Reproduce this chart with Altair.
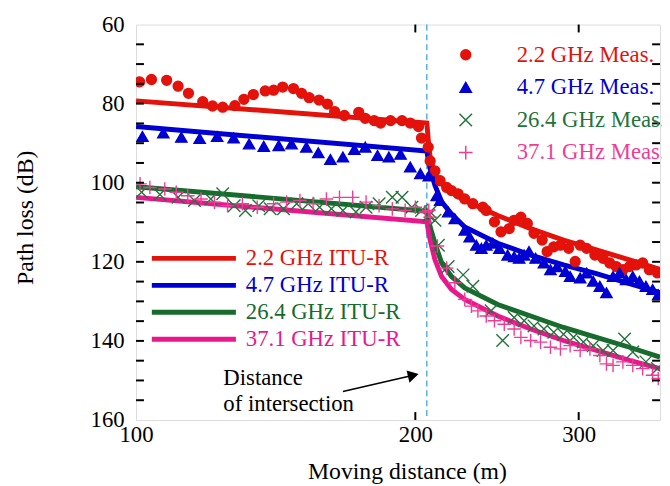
import altair as alt
import pandas as pd

FONT = "Liberation Serif"

# ---------------- data ----------------
series_meas = ["2.2 GHz Meas.", "4.7 GHz Meas.", "26.4 GHz Meas.", "37.1 GHz Meas."]
series_itu = ["2.2 GHz ITU-R", "4.7 GHz ITU-R", "26.4 GHz ITU-R", "37.1 GHz ITU-R"]

meas22_dist = [100.9, 103.9, 107.9, 111.0, 113.9, 118.0, 120.9, 124.0, 127.8, 130.7, 133.8, 137.8, 140.7,
               143.9, 147.8, 150.8, 153.7, 157.5, 160.8, 163.7, 167.7, 173.8, 176.6, 180.6, 183.5, 188.1,
               193.5, 197.5, 201.6, 203.1, 206.5, 207.5, 210.0, 212.7, 216.2, 218.8, 222.4, 226.1, 230.7,
               236.5, 238.5, 243.4, 247.4, 252.5, 255.6, 259.9, 264.1, 268.5, 274.0, 277.4, 282.0, 286.7,
               292.6, 297.4, 301.1, 306.0, 312.3, 318.7, 324.0, 329.3, 334.8, 340.3, 345.9, 351.6, 357.5, 364.8]
meas22_loss = [74.5, 73.9, 74.1, 75.6, 77.4, 79.5, 80.6, 80.9, 80.5, 78.9, 77.7, 76.8, 76.6,
               75.8, 76.2, 77.4, 78.5, 79.1, 80.1, 82.0, 83.0, 82.2, 83.7, 84.3, 84.9, 84.3,
               84.3, 84.9, 85.8, 88.7, 91.0, 94.5, 97.0, 99.5, 101.2, 102.0, 102.8, 104.1, 105.3,
               106.2, 107.0, 109.9, 112.4, 111.6, 109.5, 108.7, 110.3, 112.8, 114.5, 117.4, 116.2, 115.8,
               116.6, 119.9, 115.8, 116.6, 118.3, 119.1, 120.3, 121.2, 122.0, 121.2, 120.8, 120.3, 122.0, 122.8]

meas47_dist = [101.6, 107.0, 111.9, 117.1, 122.3, 127.4, 132.4, 137.3, 142.5, 147.1, 152.6, 157.2, 162.0,
               167.1, 171.9, 176.6, 182.1, 187.3, 192.8, 197.5, 202.5, 206.8, 210.9, 212.7, 217.0, 220.6,
               226.1, 228.9, 232.7, 235.6, 238.5, 242.4, 246.4, 251.5, 255.6, 258.8, 262.0, 265.2, 269.6,
               275.2, 279.7, 284.3, 290.2, 293.7, 301.1, 306.0, 311.0, 316.2, 321.4, 326.7, 332.1, 337.5,
               343.1, 348.8, 354.5, 360.4, 365.5]
meas47_loss = [88.3, 87.4, 88.5, 88.8, 88.3, 88.7, 90.2, 90.8, 90.6, 90.2, 91.0, 92.4, 94.1,
               93.5, 91.6, 91.0, 93.1, 93.5, 92.8, 96.0, 97.7, 98.3, 103.3, 104.5, 107.4, 109.1,
               112.0, 113.7, 115.8, 116.6, 115.8, 115.3, 116.6, 118.3, 118.7, 119.1, 118.3, 117.4, 119.1,
               120.3, 122.0, 121.2, 122.4, 123.7, 124.1, 122.8, 124.9, 126.2, 127.8, 123.7, 122.8, 124.5,
               123.7, 124.9, 126.2, 127.0, 128.3]

meas264_dist = [101.4, 106.1, 111.0, 115.6, 120.4, 124.0, 127.6, 131.2, 135.6, 139.5, 144.2, 149.0, 153.3,
                157.7, 162.4, 167.1, 172.6, 177.0, 182.8, 188.9, 193.5, 198.3, 203.1, 206.8, 207.5, 210.0,
                211.8, 217.0, 225.2, 230.7, 241.4, 248.4, 255.6, 262.0, 268.5, 275.2, 282.0, 288.9, 296.2,
                303.5, 311.0, 318.7, 326.7, 336.2, 343.1, 354.5, 364.8]
meas264_loss = [102.4, 103.0, 103.7, 104.5, 104.1, 102.8, 105.8, 107.0, 105.8, 106.6, 106.6, 105.3, 105.3,
                106.2, 106.6, 107.0, 107.4, 106.2, 105.3, 103.7, 103.7, 106.2, 107.0, 108.3, 107.4, 109.5,
                115.8, 121.2, 123.3, 126.2, 132.4, 139.9, 134.1, 134.9, 136.2, 137.0, 137.8, 138.3, 139.1,
                140.3, 141.2, 142.4, 142.4, 139.5, 142.8, 145.3, 147.0]

meas371_dist = [101.0, 103.5, 107.4, 110.5, 113.7, 117.5, 121.5, 125.5, 130.2, 135.1, 140.7, 145.3, 150.2,
                155.2, 160.4, 165.7, 171.2, 177.0, 182.8, 188.9, 195.0, 200.0, 205.0, 206.8, 207.5, 211.3,
                216.2, 220.6, 226.1, 229.9, 233.6, 238.5, 243.4, 249.4, 255.6, 259.9, 266.3, 272.9, 279.7,
                286.7, 293.7, 301.1, 308.5, 316.2, 321.4, 326.7, 334.8, 343.1, 351.6, 360.4, 365.5]
meas371_loss = [100.3, 101.2, 101.6, 102.4, 103.3, 104.1, 104.9, 105.8, 105.3, 106.2, 105.3, 104.9, 104.5,
                105.3, 104.1, 103.7, 103.7, 104.9, 105.8, 106.6, 107.0, 106.2, 107.4, 107.0, 108.7, 116.0,
                121.6, 125.3, 129.5, 131.2, 132.4, 133.7, 134.9, 135.8, 137.0, 139.1, 139.9, 140.3, 141.6,
                142.0, 141.2, 142.4, 142.0, 143.7, 145.8, 146.2, 145.3, 146.2, 147.0, 148.7, 149.5]

itu_dist = [100.0, 205.8, 206.6, 207.5, 210.0, 213.5, 218.8, 226.1, 245.4, 266.3, 288.9, 313.5, 340.3, 367.1]
itu22 = [79.3, 84.9, 89.5, 93.7, 97.8, 100.2, 102.4, 104.5, 108.3, 111.6, 114.5, 117.0, 119.5, 121.9]
itu47 = [85.8, 92.0, 94.3, 96.5, 100.7, 104.8, 107.9, 111.2, 115.3, 118.3, 120.8, 123.0, 125.5, 127.8]
itu264 = [101.0, 107.2, 109.2, 111.2, 115.3, 120.3, 123.7, 126.6, 130.8, 133.7, 136.6, 139.1, 141.6, 144.1]
itu371 = [103.7, 109.9, 112.2, 114.5, 119.5, 123.7, 127.0, 129.5, 133.7, 137.0, 139.9, 142.4, 144.9, 147.0]

intersection_distance = 205.8
annotation_lines = ["Distance", "of intersection"]

x_labels = [100, 200, 300]
x_ticks = [200, 300]
y_labels = [60, 80, 100, 120, 140, 160]
y_ticks = [65, 70, 75, 80, 85, 90, 95, 100, 105, 110, 115, 120, 125, 130, 135, 140, 145, 150, 155]

# ---------------- styles ----------------
W, H = 530, 400
line_colors = ["#e3120b", "#0000d2", "#176b2c", "#e8188c"]
meas_colors = ["#e3120b", "#0000d2", "#23733a", "#ee3d96"]
meas_fills = ["#e3120b", "#0000d2", "transparent", "transparent"]
meas_shapes = ["circle", "triangle-up", "M-1,-1L1,1M-1,1L1,-1", "M-1,0L1,0M0,-1L0,1"]
meas_sizes = [100, 190, 200, 200]

points_df = pd.concat([
    pd.DataFrame({"distance": d, "loss": l, "series": s})
    for d, l, s in zip([meas22_dist, meas47_dist, meas264_dist, meas371_dist],
                       [meas22_loss, meas47_loss, meas264_loss, meas371_loss], series_meas)
], ignore_index=True)

lines_df = pd.concat([
    pd.DataFrame({"distance": itu_dist, "loss": v, "series": s})
    for v, s in zip([itu22, itu47, itu264, itu371], series_itu)
], ignore_index=True)

xtick_df = pd.DataFrame({"distance": x_ticks})
ytick_df = pd.DataFrame({"loss": y_ticks})
one_row = pd.DataFrame({"k": [0]})

x_scale = alt.Scale(type="log", domain=[100, 367.1], nice=False)
y_scale = alt.Scale(domain=[60, 160], reverse=True, nice=False, zero=False)

x_axis = alt.Axis(values=x_labels, format="d", ticks=False, tickSize=0, domain=False, grid=False,
                  labelFont=FONT, labelFontSize=23, labelColor="black", labelPadding=4,
                  labelFlush=False, labelOverlap=False,
                  title="Moving distance (m)", titleFont=FONT, titleFontSize=24,
                  titleFontWeight="normal", titleColor="black", titleX=274, titleY=52,
                  titleBaseline="middle", titleAlign="center")
y_axis = alt.Axis(values=y_labels, ticks=False, tickSize=0, domain=False, grid=False,
                  labelFont=FONT, labelFontSize=23, labelColor="black", labelPadding=12,
                  labelFlush=False, labelOverlap=False,
                  title="Path loss (dB)", titleFont=FONT, titleFontSize=24,
                  titleFontWeight="normal", titleColor="black", titleX=-112, titleY=195,
                  titleBaseline="middle", titleAlign="center", titleAngle=270)


def X():
    return alt.X("distance:Q", scale=x_scale, axis=x_axis)


def Y():
    return alt.Y("loss:Q", scale=y_scale, axis=y_axis)


meas_legend = alt.Legend(title=None, orient="none", legendX=322, legendY=19, padding=0, rowPadding=9,
                         labelFont=FONT, labelFontSize=23, labelOffset=40, labelLimit=400,
                         labelColor=alt.ExprRef(expr="scale('stroke', datum.value)"))
itu_legend = alt.Legend(title=None, orient="none", legendX=15, legendY=223, padding=0, rowPadding=1.3,
                        symbolType="M-4,0L4,0", symbolSize=452, symbolStrokeWidth=5,
                        symbolOffset=30, labelOffset=39,
                        labelFont=FONT, labelFontSize=23, labelLimit=400,
                        labelColor=alt.ExprRef(expr="scale('color', datum.value)"))

dashed = alt.Chart(one_row).mark_rule(color="#2a9fd8", strokeWidth=1.2, strokeDash=[6, 4]).encode(
    x=alt.datum(intersection_distance)
)

lines = alt.Chart(lines_df).mark_line(strokeWidth=5, clip=True).encode(
    x=X(), y=Y(),
    color=alt.Color("series:N", scale=alt.Scale(domain=series_itu, range=line_colors), legend=itu_legend),
)

points = alt.Chart(points_df).mark_point(strokeWidth=1.4, opacity=1, clip=True).encode(
    x=X(), y=Y(),
    shape=alt.Shape("series:N", scale=alt.Scale(domain=series_meas, range=meas_shapes), legend=meas_legend),
    stroke=alt.Stroke("series:N", scale=alt.Scale(domain=series_meas, range=meas_colors), legend=meas_legend),
    fill=alt.Fill("series:N", scale=alt.Scale(domain=series_meas, range=meas_fills), legend=meas_legend),
    size=alt.Size("series:N", scale=alt.Scale(domain=series_meas, range=meas_sizes), legend=meas_legend),
)

left_ticks = alt.Chart(ytick_df).mark_rule(color="black", strokeWidth=2).encode(
    y=Y(), x=alt.value(0), x2=alt.value(8))
right_ticks = alt.Chart(ytick_df).mark_rule(color="black", strokeWidth=2).encode(
    y=Y(), x=alt.value(W - 8), x2=alt.value(W))
bottom_ticks = alt.Chart(xtick_df).mark_rule(color="black", strokeWidth=2).encode(
    x=X(), y=alt.value(H - 8), y2=alt.value(H))
top_ticks = alt.Chart(xtick_df).mark_rule(color="black", strokeWidth=2).encode(
    x=X(), y=alt.value(0), y2=alt.value(8))

text1 = alt.Chart(one_row).mark_text(align="left", baseline="middle", font=FONT, fontSize=23,
                                     color="black").encode(
    x=alt.datum(124.2), y=alt.datum(149.5), text=alt.value(annotation_lines[0]))
text2 = alt.Chart(one_row).mark_text(align="left", baseline="middle", font=FONT, fontSize=23,
                                     color="black").encode(
    x=alt.datum(124.2), y=alt.datum(156.0), text=alt.value(annotation_lines[1]))

arrow_line = alt.Chart(one_row).mark_rule(color="black", strokeWidth=1.5).encode(
    x=alt.datum(167.1), x2=alt.datum(199.0), y=alt.datum(152.8), y2=alt.datum(148.7))
arrow_head = alt.Chart(one_row).mark_point(shape="triangle-right", filled=True, size=160, angle=346.8,
                                           color="black", opacity=1).encode(
    x=alt.datum(199.0), y=alt.datum(148.7))

chart = alt.layer(
    dashed, lines, points, left_ticks, right_ticks, bottom_ticks, top_ticks,
    text1, text2, arrow_line, arrow_head
).properties(
    width=W, height=H,
    autosize=alt.AutoSizeParams(type="none"),
    padding={"left": 129.5, "top": 14, "right": 2, "bottom": 62},
).configure_view(stroke="black", strokeWidth=2).configure(background="white")

chart.save("out.html", embed_options={"renderer": "svg", "actions": False})
